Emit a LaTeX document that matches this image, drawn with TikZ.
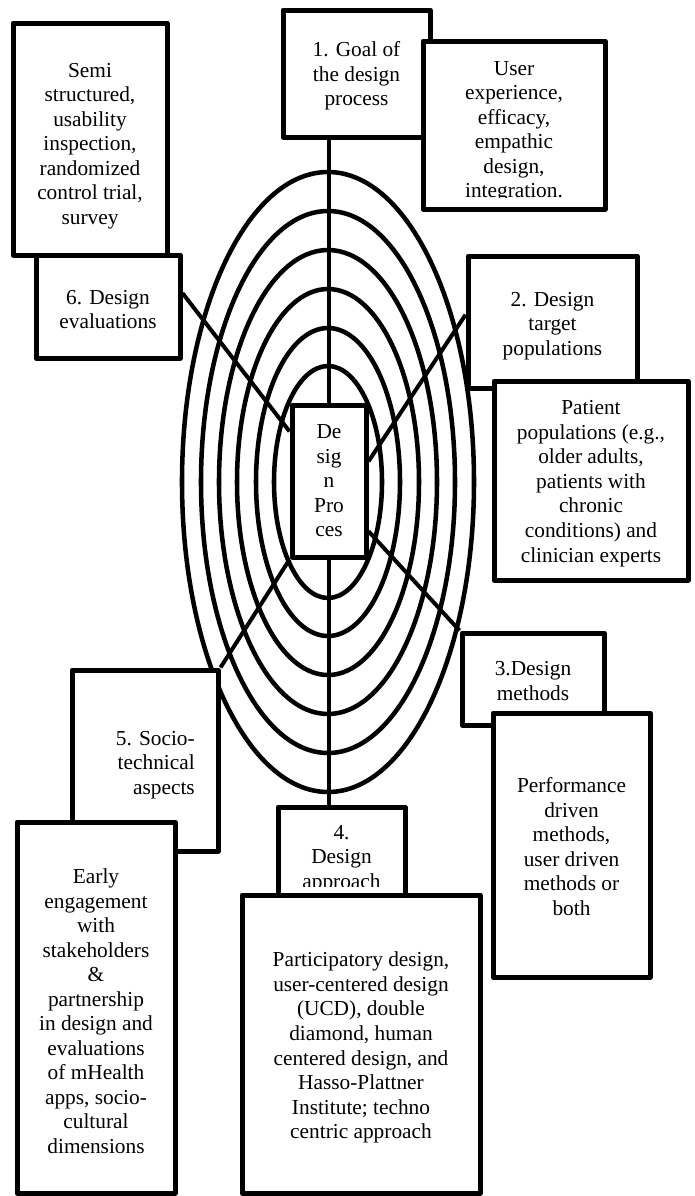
\documentclass[tikz,border=0pt]{standalone}
\usepackage{fontspec}
\setmainfont{Liberation Serif}
\usetikzlibrary{calc}
\pgfdeclarelayer{bg}
\pgfsetlayers{bg,main}
\def\pu{0.75pt}
\newcommand\tpad[1][15.3pt]{\rule{0pt}{#1}}
\begin{document}
\begin{tikzpicture}[x=0.75pt,y=-0.75pt,
  box/.style={draw, line width=3.75pt, fill=white, line join=round, inner sep=0pt, align=center, font=\fontsize{16}{18.4}\selectfont},
  txt/.style={inner sep=0pt, align=center, font=\fontsize{16}{18.4}\selectfont},
  ring/.style={line width=3.4pt},
  spoke/.style={line width=3pt}]
\useasboundingbox (0,0) rectangle (695,1196);

% boxes
\node[box, minimum width=154*\pu, minimum height=232*\pu] (semi) at (90,139)
  {\tpad[21pt]Semi\\structured,\\usability\\inspection,\\randomized\\control trial,\\survey};
\node[box, minimum width=144*\pu, minimum height=103*\pu] (six) at (108,306.5)
  {\tpad 6. Design\\evaluations};
\node[box, minimum width=147*\pu, minimum height=127*\pu] (goal) at (356.5,73.5)
  {\tpad 1. Goal of\\the design\\process};
\node[box, minimum width=182*\pu, minimum height=168*\pu] (user) at (514,125) {};
\begin{scope}
  \clip (423,41) rectangle (605,197);
  \node[txt, anchor=north] (usert) at (514,61)
    {User\\experience,\\efficacy,\\empathic\\design,\\integration.};
\end{scope}
\node[box, minimum width=169*\pu, minimum height=132*\pu] (two) at (552.5,322)
  {\tpad[16.5pt]2. Design\\target\\populations};
\node[box, minimum width=194*\pu, minimum height=199*\pu] (patient) at (591,480.5)
  {\tpad Patient\\populations (e.g.,\\older adults,\\patients with\\chronic\\conditions) and\\clinician experts};
\node[box, minimum width=74*\pu, minimum height=152*\pu] (dp) at (329,481)
  {De\\sig\\n\\Pro\\ces};
\node[box, minimum width=142*\pu, minimum height=92*\pu] (three) at (533,679)
  {\tpad[13.8pt]3.Design\\methods};
\node[box, minimum width=157*\pu, minimum height=264*\pu] (perf) at (571.5,845)
  {\tpad[13.8pt]Performance\\driven\\methods,\\user driven\\methods or\\both};
\node[box, minimum width=146*\pu, minimum height=181*\pu] (five) at (145,760.5) {};
\node[txt, align=right, anchor=east] (fivet) at (195,765)
  {5. Socio-\\technical\\aspects};
\node[box, minimum width=158*\pu, minimum height=371*\pu] (early) at (96,1007.5)
  {\tpad[16.5pt]Early\\engagement\\with\\stakeholders\\\&\\partnership\\in design and\\evaluations\\of mHealth\\apps, socio-\\cultural\\dimensions};
\node[box, minimum width=127*\pu, minimum height=93*\pu] (four) at (341.5,853.5) {};
\begin{scope}
  \clip (278,807) rectangle (405,886);
  \node[txt, anchor=north] (fourt) at (341.5,825) {4.\\Design\\approach};
\end{scope}
\node[box, minimum width=238*\pu, minimum height=298*\pu] (part) at (361,1044)
  {\tpad[16.5pt]Participatory design,\\user-centered design\\(UCD), double\\diamond, human\\centered design, and\\Hasso-Plattner\\Institute; techno\\centric approach};

\begin{pgfonlayer}{bg}
  \fill[white] (0,0) rectangle (695,1196);
  \foreach \rx/\ry in {146/310,127/271,109/232,91/193,72/154,54/116}
    \draw[ring] (328,482) ellipse [x radius=\rx, y radius=\ry];
  \draw[line width=3.4pt] (goal.south -| dp.north) -- (dp.north);
  \draw[line width=3.4pt] (dp.south) -- (dp.south |- four.north);
  \draw[spoke] ($(six.north east)!0.376!(six.south east)$) -- ($(dp.north west)!0.184!(dp.south west)$);
  \draw[spoke] ($(two.north west)!0.447!(two.south west)$) -- ($(dp.north east)!0.375!(dp.south east)$);
  \draw[spoke] ($(dp.north east)!0.82!(dp.south east)$) -- (three.north west);
  \draw[spoke] (dp.south west) -- (five.north east);
\end{pgfonlayer}
\end{tikzpicture}
\end{document}
